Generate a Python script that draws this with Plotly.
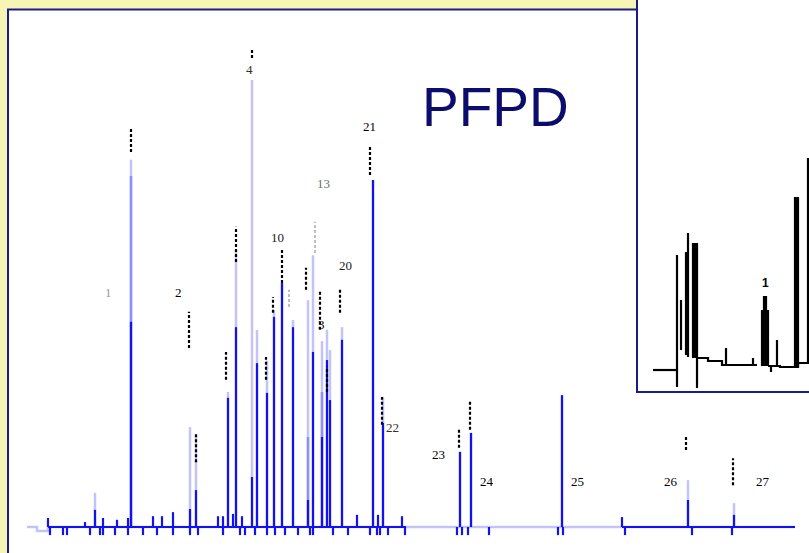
import plotly.graph_objects as go

# main trace, retention time (min) and response (peak 4 = ~100)
peak_t = [3.4, 5.2, 8.15, 8.45, 10.05, 10.45, 11.25, 11.5, 12.0, 12.35, 12.75, 13.3, 14.05, 14.3,
          14.75, 15.0, 15.15, 15.75, 17.3, 17.8, 21.65, 22.2, 26.75, 33.05, 35.35]
peak_light = [7.6, 81.6, 22.2, 20.4, 30.0, 61.6, 99.3, 43.8, 37.0, 48.2, 54.2, 46.0, 50.4, 60.4,
              41.3, 43.8, 39.3, 44.4, 77.1, 28.9, 16.7, 20.9, 29.3, 10.4, 5.3]
peak_mid = [0, 78.0, 0, 0, 0, 0, 0, 0, 0, 0, 0, 0, 20.0, 0,
            30.0, 0, 0, 0, 0, 0, 0, 0, 0, 0, 0]
peak_dark = [3.8, 45.6, 4.0, 8.2, 28.7, 44.4, 11.1, 36.4, 29.8, 46.7, 54.2, 44.4, 6.0, 38.9,
             20.0, 37.1, 28.2, 41.6, 77.1, 23.1, 16.7, 20.9, 29.3, 6.0, 2.7]

blip_t = [1.05, 2.9, 3.8, 4.5, 5.05, 6.3, 6.75, 7.3, 9.55, 9.8, 10.3, 10.75, 16.5, 17.55, 18.75, 29.75]
blip_h = [2.0, 1.1, 2.0, 1.6, 2.0, 2.4, 2.4, 3.3, 2.4, 2.4, 2.9, 2.4, 2.7, 2.7, 2.4, 2.2]

dip_t = [1.15, 1.8, 2.0, 3.15, 3.65, 3.8, 4.4, 5.05, 5.8, 6.5, 7.3, 8.15, 8.55, 9.8, 10.65, 10.9,
         11.4, 12.0, 12.4, 12.9, 13.55, 14.15, 14.3, 15.3, 16.05, 17.15, 17.5, 17.65, 18.05, 18.9,
         21.5, 21.75, 22.05, 23.1, 26.55, 26.8, 29.9, 33.25, 35.25]
dip_h = -1.8

base_t = [0, 0.5, 0.5, 1.05, 1.05, 38.4]
base_h = [0, 0, -0.9, -0.9, 0, 0]
dark_base = [(1.05, 18.95), (29.75, 38.4)]

# garbled peak label marks (t, top, bottom)
mark_t = [5.2, 8.1, 8.45, 9.95, 10.45, 11.25, 11.95, 12.3, 12.75, 13.95, 14.65, 15.0, 15.65,
          17.15, 17.75, 21.6, 22.15, 32.95, 35.3]
mark_top = [88.7, 47.8, 20.9, 38.9, 66.7, 106.4, 37.8, 51.1, 61.6, 57.6, 52.7, 35.6, 52.7,
            84.9, 28.9, 21.6, 28.2, 20.0, 15.3]
mark_bot = [83.3, 39.8, 14.4, 32.7, 58.9, 104.2, 32.7, 47.6, 54.2, 52.7, 43.8, 30.0, 47.6,
            78.2, 22.7, 17.6, 21.6, 17.1, 9.3]
grey_mark_t = [13.1, 14.4]
grey_mark_top = [52.7, 67.8]
grey_mark_bot = [48.9, 60.9]

labels = ["1", "2", "4", "10", "13", "20", "21", "22", "23", "24", "25", "26", "27", "3"]
label_t = [4.05, 7.55, 11.1, 12.5, 14.8, 15.9, 17.1, 18.25, 20.55, 23.0, 27.5, 32.2, 36.8, 14.7]
label_h = [52.2, 52.2, 101.6, 64.4, 76.4, 58.2, 88.9, 22.2, 16.2, 10.0, 10.0, 10.0, 10.0, 45.0]
label_col = ["#9a9a9a", "#000000", "#303030", "#202020", "#707070", "#202020", "#000000", "#303030",
             "#000000", "#000000", "#000000", "#000000", "#000000", "#000000"]

# inset (black trace)
inset_base_t = [1.6, 4.0, None, 6.0, 7.1, 7.1, 8.5, 8.5, 12.0, None, 13.1, 14.3, 14.3, 16.1, 16.1, 17.2]
inset_base_h = [0, 0, None, 6, 6, 4.5, 4.5, 2.5, 2.5, None, 2, 2, 1.5, 1.5, 3.5, 3.5]
inset_t = [4.0, 4.4, 4.9, 5.1, 5.6, 5.8, 6.0, 8.9, 11.6, 12.5, 12.7, 12.9, 13.1, 13.4, 14.0,
           15.8, 15.95, 16.1, 17.1]
inset_top = [57.5, 35, 59, 68.5, 63.5, 63.5, 63.5, 11, 6, 30, 37, 37, 30, -1, 15, 86.5, 86.5, 86.5, 106]
inset_low = [-8.5, 10, 7.5, 6.5, 6, 6, -9, 2.5, 2.5, 2, 2, 2, 2, 2, 1.5, 1.5, 1.5, 1.5, 3.5]


def spikes(ts, tops, lows):
    xs, ys = [], []
    for t, a, b in zip(ts, tops, lows):
        if a == b:
            continue
        xs += [t, t, None]
        ys += [b, a, None]
    return xs, ys


fig = go.Figure()

lx, ly = spikes(peak_t, peak_light, [0] * len(peak_t))
fig.add_trace(go.Scatter(x=base_t + [None] + lx, y=base_h + [None] + ly, mode="lines",
                         line=dict(color="#c3c3fb", width=2.5), hoverinfo="skip"))

mdx, mdy = spikes(peak_t, peak_mid, [0] * len(peak_t))
fig.add_trace(go.Scatter(x=mdx, y=mdy, mode="lines",
                         line=dict(color="#8f8ff8", width=2.5), hoverinfo="skip"))

dx, dy = [], []
for a, b in dark_base:
    dx += [a, b, None]
    dy += [0, 0, None]
sx, sy = spikes(peak_t + blip_t + dip_t, peak_dark + blip_h + [dip_h] * len(dip_t),
                [0] * (len(peak_t) + len(blip_t) + len(dip_t)))
fig.add_trace(go.Scatter(x=dx + sx, y=dy + sy, mode="lines",
                         line=dict(color="#1212ee", width=2.2), hoverinfo="skip"))

mx, my = spikes(mark_t, mark_top, mark_bot)
fig.add_trace(go.Scatter(x=mx, y=my, mode="lines", hoverinfo="skip",
                         line=dict(color="black", width=2.2, dash="3px,2px")))
gx, gy = spikes(grey_mark_t, grey_mark_top, grey_mark_bot)
fig.add_trace(go.Scatter(x=gx, y=gy, mode="lines", hoverinfo="skip",
                         line=dict(color="#aaaaaa", width=1.5, dash="3px,2px")))

ix, iy = spikes(inset_t, inset_top, inset_low)
fig.add_trace(go.Scatter(x=inset_base_t + [None] + ix, y=inset_base_h + [None] + iy,
                         mode="lines", xaxis="x2", yaxis="y2", hoverinfo="skip",
                         line=dict(color="black", width=2.2)))

for txt, t, h, c in zip(labels, label_t, label_h, label_col):
    fig.add_annotation(x=t, y=h, text=txt, showarrow=False,
                       font=dict(family="Liberation Serif", size=13, color=c))
fig.add_annotation(x=12.8, y=43.5, xref="x2", yref="y2", text="<b>1</b>", showarrow=False,
                   font=dict(family="Liberation Sans", size=12, color="black"))

fig.add_annotation(x=0.613, y=0.866, xref="paper", yref="paper", text="PFPD", showarrow=False,
                   font=dict(family="Liberation Sans", size=55, color="#0c0c6c"))

navy = "#1c1c88"
fig.add_shape(type="rect", xref="paper", yref="paper", x0=0.0099, x1=1.05, y0=-0.05, y1=0.983,
              fillcolor="white", line=dict(color=navy, width=2), layer="below")
fig.add_shape(type="rect", xref="paper", yref="paper", x0=0.7874, x1=1.05, y0=0.2911, y1=1.05,
              fillcolor="white", line=dict(color=navy, width=2), layer="below")

fig.update_layout(
    width=809, height=553,
    margin=dict(l=0, r=0, t=0, b=0),
    paper_bgcolor="#f7f5b4",
    plot_bgcolor="rgba(0,0,0,0)",
    showlegend=False,
    xaxis=dict(range=[-1.35, 39.1], domain=[0, 1], visible=False),
    yaxis=dict(range=[-5.78, 117.1], domain=[0, 1], visible=False),
    xaxis2=dict(range=[0, 17.2], domain=[0.7874, 1], anchor="y2", visible=False),
    yaxis2=dict(range=[-11, 185], domain=[0.2911, 1], anchor="x2", visible=False),
)

fig.write_html("out.html", config={"displayModeBar": False},
               post_script="document.body.style.margin='0';document.body.style.overflow='hidden';")
